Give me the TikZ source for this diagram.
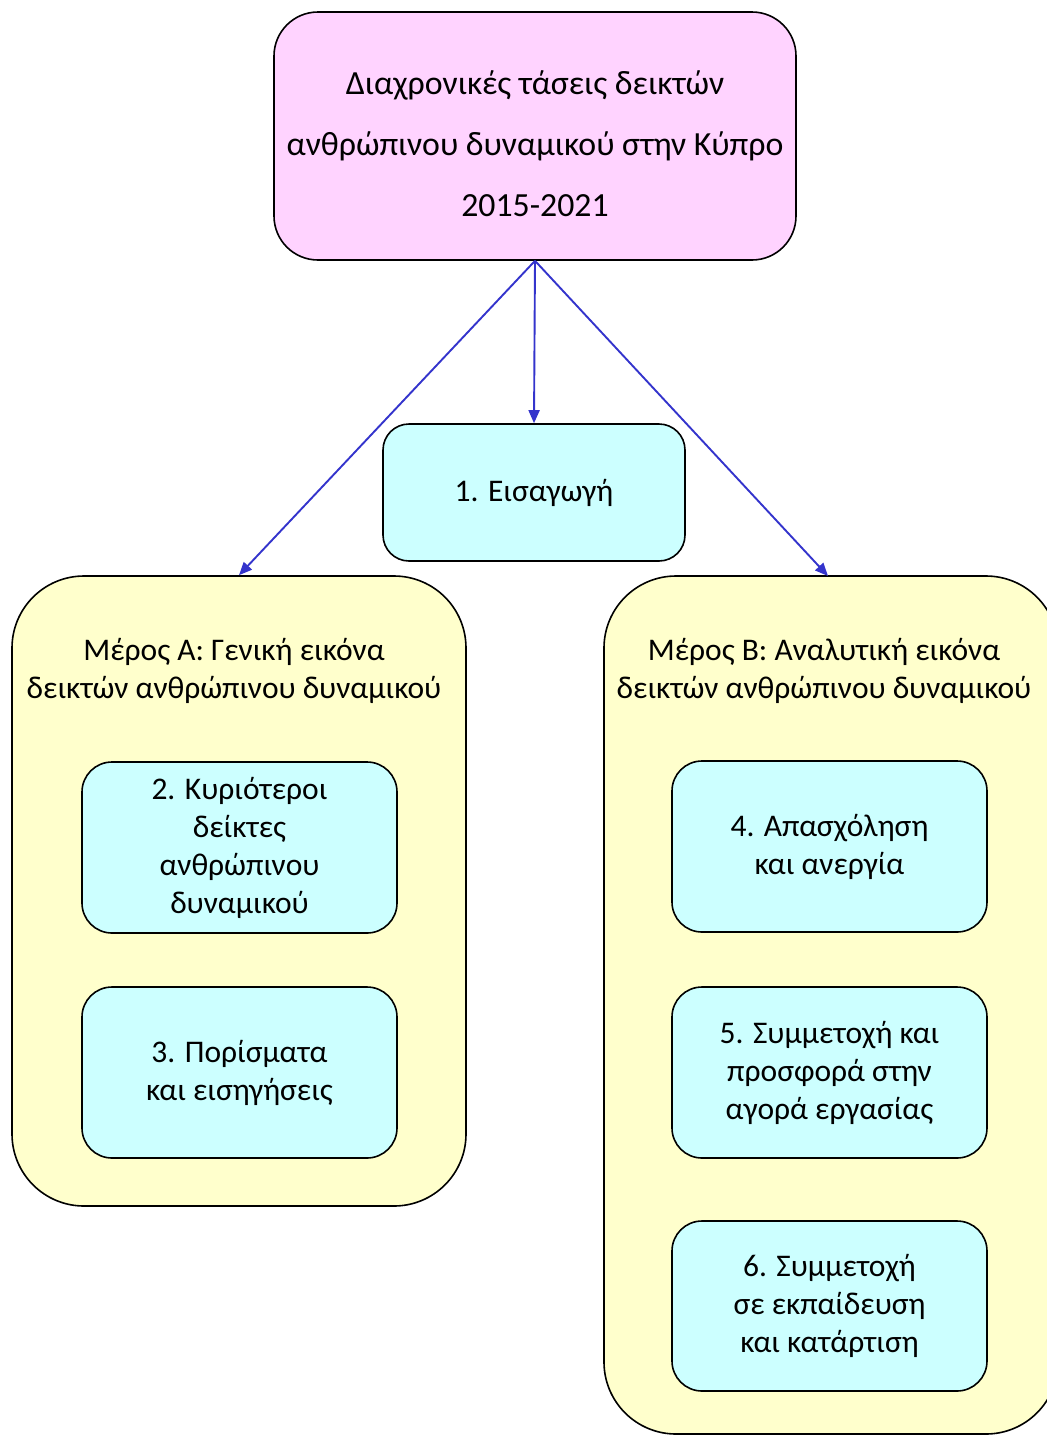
\documentclass[tikz,border=0pt]{standalone}
\usepackage{fontspec}
\setmainfont{Carlito}
\usetikzlibrary{arrows.meta}
\definecolor{pinkfill}{HTML}{FFD3FF}
\definecolor{cyanfill}{HTML}{CCFFFF}
\definecolor{yellowfill}{HTML}{FFFFCC}
\definecolor{arrowblue}{HTML}{3434CC}
\tikzset{
  box/.style={draw=black, line width=1.6pt, rectangle, inner sep=0pt, align=center,
    font={\fontsize{31.5}{38}\selectfont}},
  topbox/.style={box, fill=pinkfill, rounded corners=44pt},
  partbox/.style={box, fill=yellowfill, rounded corners=72pt},
  cbox/.style={box, fill=cyanfill, rounded corners=30pt},
  conn/.style={draw=arrowblue, line width=1.9pt, -{Triangle[length=13pt,width=11pt]}},
  title/.style={align=center, inner sep=0pt, font={\fontsize{31.5}{38}\selectfont}},
  toptitle/.style={align=center, inner sep=0pt, font={\fontsize{33.8}{61}\selectfont}}
}
\begin{document}
\begin{tikzpicture}[x=1pt,y=-1pt]
\useasboundingbox (0,0) rectangle (1047,1436);
\clip (0,0) rectangle (1047,1436);
% top
\node[topbox, minimum width=522pt, minimum height=248pt] (top) at (535,136) {};
\node[toptitle] (topText) at (535,144)
  {Διαχρονικές τάσεις δεικτών\\ανθρώπινου δυναμικού στην Κύπρο\\2015-2021};
% intro
\node[cbox, minimum width=302pt, minimum height=137pt, rounded corners=26pt] (intro) at (534,492.5) {1. Εισαγωγή};
% part A
\node[partbox, minimum width=454pt, minimum height=630pt] (partA) at (239,891) {};
\node[title] (titleA) at (234,671) {Μέρος Α: Γενική εικόνα\\δεικτών ανθρώπινου δυναμικού};
\node[cbox, minimum width=315pt, minimum height=171pt] (b2) at (239.5,847.5) {2. Κυριότεροι\\δείκτες\\ανθρώπινου\\δυναμικού};
\node[cbox, minimum width=315pt, minimum height=171pt] (b3) at (239.5,1072.5) {3. Πορίσματα\\και εισηγήσεις};
% part B
\node[partbox, minimum width=454pt, minimum height=858pt] (partB) at (831,1005) {};
\node[title] (titleB) at (824,671) {Μέρος Β: Αναλυτική εικόνα\\δεικτών ανθρώπινου δυναμικού};
\node[cbox, minimum width=315pt, minimum height=171pt] (b4) at (829.5,846.5) {4. Απασχόληση\\και ανεργία};
\node[cbox, minimum width=315pt, minimum height=171pt] (b5) at (829.5,1072.5) {5. Συμμετοχή και\\προσφορά στην\\αγορά εργασίας};
\node[cbox, minimum width=315pt, minimum height=170pt] (b6) at (829.5,1306) {6. Συμμετοχή\\σε εκπαίδευση\\και κατάρτιση};
% connectors
\coordinate (endB) at (828,576);
\draw[conn] (top.south) -- (intro.north);
\draw[conn] (top.south) -- (partA.north);
\draw[conn] (top.south) -- (endB);
\end{tikzpicture}
\end{document}
